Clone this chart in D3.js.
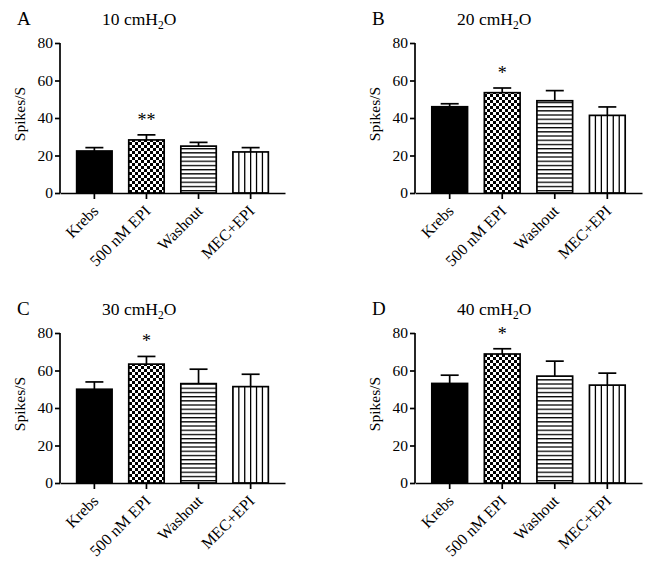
<!DOCTYPE html>
<html>
<head>
<meta charset="utf-8">
<script src="https://cdn.jsdelivr.net/npm/d3@7"></script>
<style>
  body { margin: 0; background: #fff; }
  svg text { font-family: "Liberation Serif", "Times New Roman", serif !important; fill: #000; }
</style>
</head>
<body>
<svg id="chart" width="654" height="561"></svg>
<script>
// ---- data ----
const categories = ["Krebs", "500 nM EPI", "Washout", "MEC+EPI"];
const panelLetters = ["A", "B", "C", "D"];
const pressures = ["10", "20", "30", "40"];
const yTicks = [0, 20, 40, 60, 80];
const meansA = [22.4, 28.3, 25.0, 21.9];
const semA = [1.8, 2.7, 2.0, 2.3];
const meansB = [46.0, 53.5, 49.2, 41.4];
const semB = [1.6, 2.5, 5.4, 4.5];
const meansC = [50.0, 63.4, 53.0, 51.4];
const semC = [3.9, 4.1, 7.7, 6.6];
const meansD = [53.1, 68.8, 57.0, 52.2];
const semD = [4.4, 2.8, 8.0, 6.4];
const stars = ["**", "*", "*", "*"];
const starIndex = 1;

const means = [meansA, meansB, meansC, meansD];
const sems = [semA, semB, semC, semD];

const FONT = '"Liberation Serif", "Times New Roman", serif';

// ---- layout ----
const layout = [
  { left: 60, top: 43, width: 225, height: 150 },
  { left: 415, top: 43, width: 227, height: 150 },
  { left: 60, top: 333, width: 225, height: 150 },
  { left: 415, top: 333, width: 227, height: 150 }
];

const svg = d3.select("#chart").attr("font-family", FONT);
const defs = svg.append("defs");

// checkerboard
const chk = defs.append("pattern").attr("id", "checker")
  .attr("patternUnits", "userSpaceOnUse").attr("width", 6).attr("height", 6);
chk.append("rect").attr("width", 6).attr("height", 6).attr("fill", "#fff");
chk.append("rect").attr("width", 3).attr("height", 3).attr("fill", "#000");
chk.append("rect").attr("x", 3).attr("y", 3).attr("width", 3).attr("height", 3).attr("fill", "#000");

// horizontal lines
const hl = defs.append("pattern").attr("id", "hlines")
  .attr("patternUnits", "userSpaceOnUse").attr("width", 10).attr("height", 4.2);
hl.append("rect").attr("width", 10).attr("height", 4.2).attr("fill", "#fff");
hl.append("rect").attr("y", 0).attr("width", 10).attr("height", 1.3).attr("fill", "#000");

const fills = ["#000", "url(#checker)", "url(#hlines)", null];

layout.forEach((L, p) => {
  const g = svg.append("g").attr("transform", `translate(${L.left},${L.top})`);
  const x = d3.scaleBand().domain(categories).range([0, L.width]).padding(0.32);
  const y = d3.scaleLinear().domain([0, 80]).range([L.height, 0]);

  categories.forEach((c, i) => {
    const v = means[p][i], s = sems[p][i];
    const bx = x(c), bw = x.bandwidth();
    const cx = bx + bw / 2;
    // error bar (upper only)
    g.append("line").attr("x1", cx).attr("x2", cx)
      .attr("y1", y(v)).attr("y2", y(v + s))
      .attr("stroke", "#000").attr("stroke-width", 1.7);
    g.append("line").attr("x1", cx - 9).attr("x2", cx + 9)
      .attr("y1", y(v + s)).attr("y2", y(v + s))
      .attr("stroke", "#000").attr("stroke-width", 1.7);

    g.append("rect").attr("x", bx).attr("y", y(v))
      .attr("width", bw).attr("height", y(0) - y(v))
      .attr("fill", fills[i] || "#fff").attr("stroke", "#000").attr("stroke-width", 1.7);
    if (!fills[i]) {
      const n = 6;
      for (let k = 1; k < n; k++) {
        const lx = bx + (bw * k) / n;
        g.append("line").attr("x1", lx).attr("x2", lx)
          .attr("y1", y(v)).attr("y2", y(0))
          .attr("stroke", "#000").attr("stroke-width", 1.3);
      }
    }
  });

  // y axis
  const yAxis = g.append("g").call(d3.axisLeft(y).tickValues(yTicks).tickSize(5).tickPadding(2));
  yAxis.attr("font-family", FONT);
  yAxis.select(".domain").attr("stroke-width", 1.7).attr("d", `M0,${L.height}V0`);
  yAxis.selectAll(".tick line").attr("stroke-width", 1.7);
  yAxis.selectAll(".tick text").attr("font-size", 15.5).attr("font-family", FONT);

  // x axis
  const xAxis = g.append("g").attr("transform", `translate(0,${L.height})`)
    .call(d3.axisBottom(x).tickSize(6).tickSizeOuter(0));
  xAxis.attr("font-family", FONT);
  xAxis.select(".domain").attr("stroke-width", 1.7);
  xAxis.selectAll(".tick line").attr("stroke-width", 1.7);
  xAxis.selectAll(".tick text")
    .attr("font-size", 16).attr("font-family", FONT)
    .attr("text-anchor", "end")
    .attr("dy", null).attr("y", null)
    .attr("transform", "translate(5,19) rotate(-45)");

  // y label
  g.append("text")
    .attr("transform", `translate(${-35},${L.height / 2 - 4}) rotate(-90)`)
    .attr("text-anchor", "middle")
    .attr("font-size", 15.5)
    .text("Spikes/S");

  // significance stars
  const sc = categories[starIndex];
  g.append("text")
    .attr("x", x(sc) + x.bandwidth() / 2)
    .attr("y", y(means[p][starIndex] + sems[p][starIndex]) - 9)
    .attr("text-anchor", "middle")
    .attr("font-size", 18)
    .text(stars[p]);

  // panel letter
  g.append("text").attr("x", -43).attr("y", -18)
    .attr("font-size", 19).text(panelLetters[p]);

  // title
  const t = g.append("text").attr("x", 42).attr("y", -18).attr("font-size", 17.5);
  t.append("tspan").text(pressures[p] + " cmH");
  t.append("tspan").attr("font-size", 11.5).attr("dy", 4).text("2");
  t.append("tspan").attr("dy", -4).text("O");
});
</script>
</body>
</html>
